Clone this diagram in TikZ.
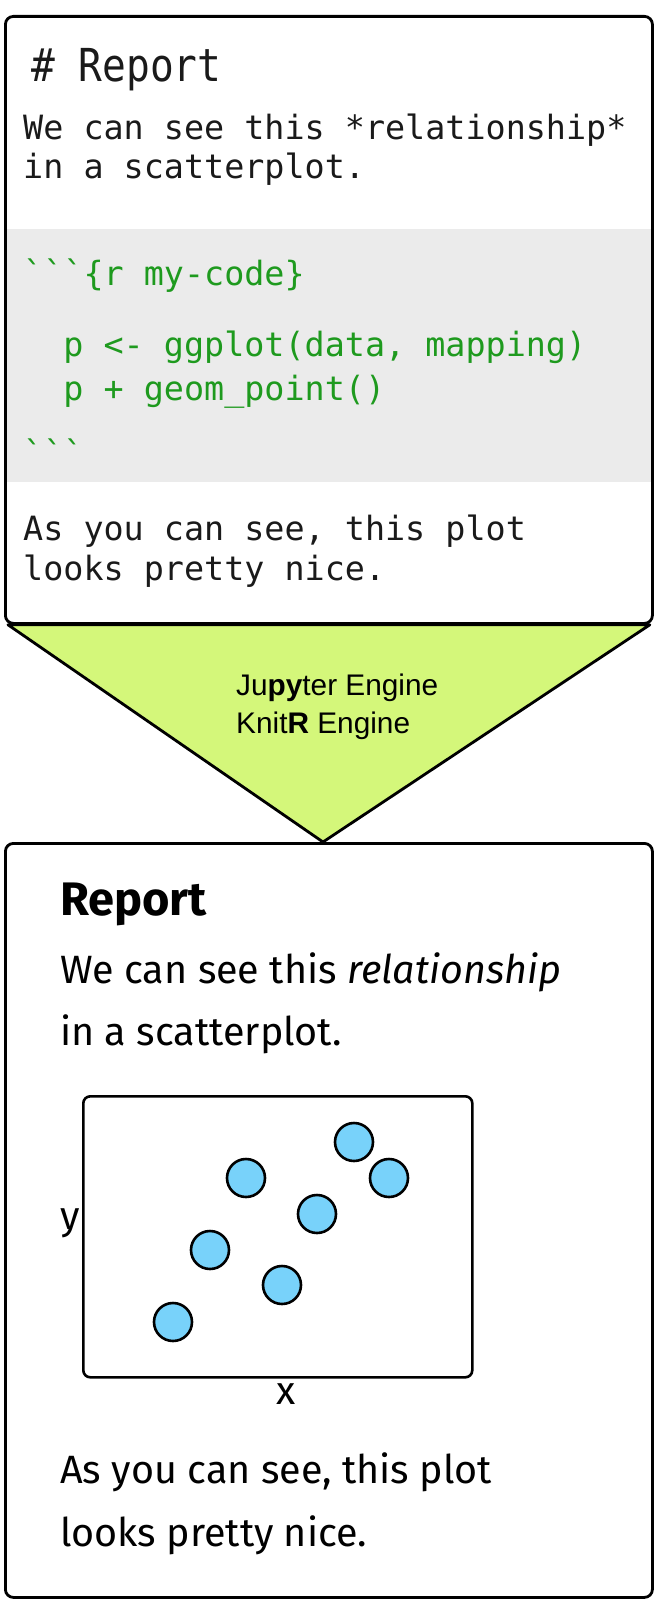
\documentclass[tikz,border=0pt]{standalone}
\usepackage{fontspec}
\newfontfamily\monof{DejaVu Sans Mono}[Ligatures=TeXOff]
\newfontfamily\firaf{Fira Sans}
\newfontfamily\arialf{Liberation Sans}
\usetikzlibrary{backgrounds}
\definecolor{funnelgreen}{HTML}{D4F77A}
\definecolor{codegreen}{HTML}{1E9A1E}
\definecolor{codegray}{HTML}{EBEBEB}
\definecolor{dotblue}{HTML}{78D2FA}
\definecolor{inkblack}{HTML}{1A1A1A}
\begin{document}
\begin{tikzpicture}[x=1pt,y=-1pt,
  frame/.style={draw=black, line width=2.8pt, rounded corners=8pt, inner sep=0pt, anchor=north west},
  plotframe/.style={draw=black, line width=2.6pt, rounded corners=7pt, inner sep=0pt, anchor=north west},
  mono/.style={anchor=base west, inner sep=0pt, text=inkblack, font=\monof\fontsize{33.4}{40}\selectfont},
  monohead/.style={mono, font=\monof\fontsize{39.5}{46}\selectfont},
  code/.style={mono, text=codegreen},
  engine/.style={anchor=base west, inner sep=0pt, text=black, font=\arialf\fontsize{29.8}{35}\selectfont},
  fira/.style={anchor=base west, inner sep=0pt, text=black, font=\firaf\fontsize{39.5}{46}\selectfont},
  firahead/.style={fira, font=\firaf\bfseries\fontsize{47}{54}\selectfont},
  axislabel/.style={fira, anchor=base},
  dot/.style={circle, draw=black, line width=2.6pt, fill=dotblue, minimum size=38pt, inner sep=0pt},
  funnel/.style={draw=black, line width=2.8pt, fill=funnelgreen, line join=round}
]
\useasboundingbox (0,0) rectangle (666,1613);

% boxes
\node[frame, minimum width=647pt, minimum height=607pt] (src) at (4,15) {};
\node[frame, minimum width=647pt, minimum height=754pt] (dst) at (4,842) {};
\coordinate (apex) at (323,842);

\begin{scope}[on background layer]
  \fill[white] (0,0) rectangle (666,1613);
  \fill[codegray] (4,229) rectangle (651,482);
  \draw[funnel] ([xshift=4pt]src.south west) -- ([xshift=-4pt]src.south east) -- (apex) -- cycle;
\end{scope}

% source (markdown) text
\node[monohead] (t0) at (31,82) {\scalebox{1}[1.15]{\# Report}};
\node[mono] (t1) at (23,140) {We can see this *relationship*};
\node[mono] (t2) at (23,179) {in a scatterplot.};
\node[code] (c1) at (23,285) {```\{r my-code\}};
\node[code] (c2) at (23,356) {\hphantom{xx}p <- ggplot(data, mapping)};
\node[code] (c3) at (23,400) {\hphantom{xx}p + geom\_point()};
\node[code] (c4) at (23,465) {```};
\node[mono] (t3) at (23,540) {As you can see, this plot};
\node[mono] (t4) at (23,580) {looks pretty nice.};

% engine label
\node[engine] (e1) at (236,695) {Ju\textbf{py}ter Engine};
\node[engine] (e2) at (236,733) {Knit\textbf{R} Engine};

% rendered report
\node[firahead] (r0) at (60,915) {Report};
\node[fira] (r1) at (60,983) {We can see this \textit{relationship}};
\node[fira] (r2) at (60,1045) {in a scatterplot.};

\node[plotframe, minimum width=389pt, minimum height=281pt] (plot) at (82,1095) {};
\node[dot] (p1) at (173,1322) {};
\node[dot] (p2) at (210,1250) {};
\node[dot] (p3) at (246,1178) {};
\node[dot] (p4) at (282,1285) {};
\node[dot] (p5) at (317,1214) {};
\node[dot] (p6) at (354,1142) {};
\node[dot] (p7) at (389,1178) {};
\node[fira, anchor=base east] (ylab) at (80,1229) {y};
\node[axislabel] (xlab) at (286,1404) {x};

\node[fira] (r3) at (60,1483) {As you can see, this plot};
\node[fira] (r4) at (60,1546) {looks pretty nice.};
\end{tikzpicture}
\end{document}
